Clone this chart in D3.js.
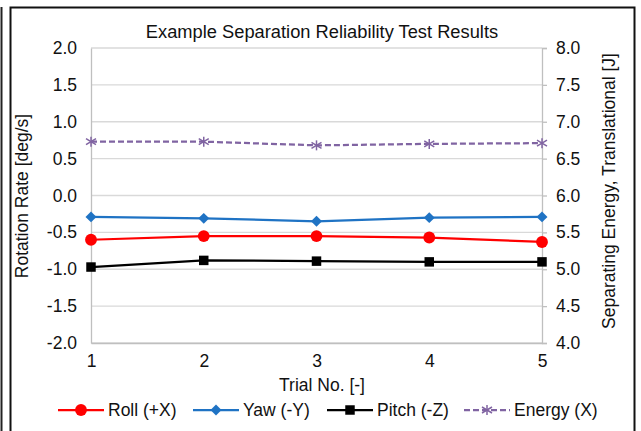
<!DOCTYPE html>
<html><head><meta charset="utf-8">
<script src="https://cdn.jsdelivr.net/npm/d3@7"></script>
<style>body{margin:0;background:#fff;}svg{display:block;font-family:"Liberation Sans",Arial,sans-serif;}</style>
</head><body>
<script>
const trials = [1, 2, 3, 4, 5];
const roll = [-0.60, -0.55, -0.55, -0.57, -0.63];
const yaw = [-0.29, -0.31, -0.35, -0.30, -0.29];
const pitch = [-0.97, -0.88, -0.89, -0.90, -0.90];
const energy = [6.73, 6.73, 6.68, 6.70, 6.71];
const leftTicks = [-2.0, -1.5, -1.0, -0.5, 0.0, 0.5, 1.0, 1.5, 2.0];
const rightTicks = [4.0, 4.5, 5.0, 5.5, 6.0, 6.5, 7.0, 7.5, 8.0];
const seriesNames = ["Roll (+X)", "Yaw (-Y)", "Pitch (-Z)", "Energy (X)"];

const W = 641, H = 431;
const FS = 17.5;
const svg = d3.select("body").append("svg").attr("width", W).attr("height", H);

// frame
svg.append("line").attr("x1", 1.5).attr("x2", 1.5).attr("y1", 7).attr("y2", H).attr("stroke", "#222").attr("stroke-width", 2);
svg.append("rect").attr("x", 10.5).attr("y", 7.5).attr("width", 624).attr("height", 430)
  .attr("fill", "#fff").attr("stroke", "#111").attr("stroke-width", 2);

const x = d3.scaleLinear().domain([1, 5]).range([91, 542]);
const yL = d3.scaleLinear().domain([-2, 2]).range([343, 48]);
const yR = d3.scaleLinear().domain([4, 8]).range([343, 48]);

// gridlines
svg.append("g").selectAll("line").data(leftTicks).join("line")
  .attr("x1", 91).attr("x2", 542).attr("y1", d => yL(d)).attr("y2", d => yL(d))
  .attr("stroke", "#d9d9d9").attr("stroke-width", 1.3);

// axes
const fmt = d => d.toFixed(1);
const gl = svg.append("g").attr("transform", "translate(91,0)")
  .call(d3.axisLeft(yL).tickValues(leftTicks).tickFormat(fmt).tickSize(0).tickPadding(14));
const gr = svg.append("g").attr("transform", "translate(542,0)")
  .call(d3.axisRight(yR).tickValues(rightTicks).tickFormat(fmt).tickSize(5).tickPadding(9));
const gb = svg.append("g").attr("transform", "translate(0,343)")
  .call(d3.axisBottom(x).tickValues(trials).tickFormat(d => String(d)).tickSize(0).tickPadding(12));
[gl, gr, gb].forEach(g => {
  g.select(".domain").attr("stroke", "#bfbfbf").attr("stroke-width", 1.3);
  g.selectAll(".tick line").attr("stroke", "#bfbfbf").attr("stroke-width", 1.3);
  g.selectAll(".tick text").attr("font-size", FS).attr("fill", "#111").attr("font-family", "Liberation Sans, Arial, sans-serif");
});

// titles
svg.append("text").attr("x", 322).attr("y", 38).attr("text-anchor", "middle").attr("font-size", 18.3).attr("fill", "#111")
  .text("Example Separation Reliability Test Results");
svg.append("text").attr("x", 322).attr("y", 391).attr("text-anchor", "middle").attr("font-size", FS).attr("fill", "#111")
  .text("Trial No. [-]");
svg.append("text").attr("transform", "translate(28,196) rotate(-90)").attr("text-anchor", "middle").attr("font-size", FS).attr("fill", "#111")
  .text("Rotation Rate [deg/s]");
svg.append("text").attr("transform", "translate(615,191) rotate(-90)").attr("text-anchor", "middle").attr("font-size", FS).attr("fill", "#111")
  .text("Separating Energy, Translational [J]");

// series
const colors = ["#ff0000", "#1f73c4", "#000000", "#8064a2"];
function drawLine(vals, ys, color, dash) {
  svg.append("path").datum(vals)
    .attr("d", d3.line().x((d, i) => x(trials[i])).y(d => ys(d)))
    .attr("fill", "none").attr("stroke", color).attr("stroke-width", 2.25)
    .attr("stroke-dasharray", dash || null);
}
const circle = d3.symbol().type(d3.symbolCircle).size(110);
const diamond = d3.symbol().type(d3.symbolSquare).size(60);
const square = d3.symbol().type(d3.symbolSquare).size(90);
const rot = [0, 45, 0];
function asterisk(g, cx, cy, color) {
  const r = 5;
  [[0, -r, 0, r], [-r, -r * 0.6, r, r * 0.6], [-r, r * 0.6, r, -r * 0.6]].forEach(s =>
    g.append("line").attr("x1", cx + s[0]).attr("y1", cy + s[1]).attr("x2", cx + s[2]).attr("y2", cy + s[3])
      .attr("stroke", color).attr("stroke-width", 1.5));
}
function drawMarkers(vals, ys, color, sym, r) {
  svg.append("g").selectAll("path").data(vals).join("path")
    .attr("transform", (d, i) => `translate(${x(trials[i])},${ys(d)}) rotate(${r})`)
    .attr("d", sym).attr("fill", color);
}
drawLine(energy, yR, colors[3], "6,3");
const eg = svg.append("g");
energy.forEach((d, i) => asterisk(eg, x(trials[i]), yR(d), colors[3]));
drawLine(yaw, yL, colors[1]); drawMarkers(yaw, yL, colors[1], diamond, 45);
drawLine(roll, yL, colors[0]); drawMarkers(roll, yL, colors[0], circle, 0);
drawLine(pitch, yL, colors[2]); drawMarkers(pitch, yL, colors[2], square, 0);

// legend
const legX = [58, 193, 327, 464];
const ly = 410;
const lg = svg.append("g");
seriesNames.forEach((name, i) => {
  lg.append("line").attr("x1", legX[i]).attr("x2", legX[i] + 46).attr("y1", ly).attr("y2", ly)
    .attr("stroke", colors[i]).attr("stroke-width", 2.25).attr("stroke-dasharray", i === 3 ? "6,3" : null);
  const cx = legX[i] + 23;
  if (i === 3) asterisk(lg, cx, ly, colors[3]);
  else lg.append("path").attr("transform", `translate(${cx},${ly}) rotate(${rot[i]})`).attr("d", [circle, diamond, square][i]).attr("fill", colors[i]);
  lg.append("text").attr("x", legX[i] + 50).attr("y", ly + 6).attr("font-size", FS).attr("fill", "#111").text(name);
});
</script>
</body></html>
